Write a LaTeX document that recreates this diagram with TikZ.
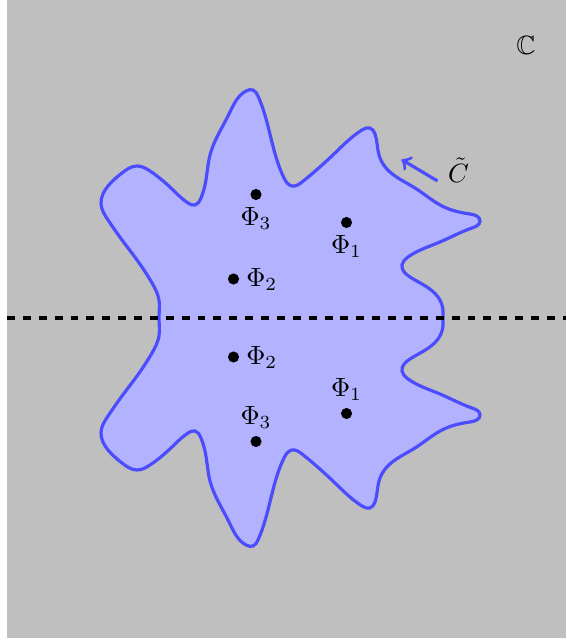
\documentclass[tikz,border=0pt]{standalone}
\usepackage{amssymb}
\usetikzlibrary{hobby}
\begin{document}
\begin{tikzpicture}[x=0.664cm, y=0.664cm,
  outline/.style={draw=blue!70, line width=1.2pt, fill=blue!30},
  pole/.style={circle, fill=black, inner sep=0pt, minimum size=4.2pt},
  poleup/.style={pole, label={[label distance=-1pt]below:#1}},
  poledown/.style={pole, label={[label distance=-1pt]above:#1}},
  poleright/.style={pole, label={[label distance=-1pt]right:#1}}]
  \useasboundingbox (0,-6.5) rectangle (11.32,6.36);
  \fill[gray!50] (0.14,-6.4) rectangle (11.32,6.36);

  % contour, symmetric about the real axis
  \draw[outline, use Hobby shortcut, closed=true]
    (3.18,0) .. (3.18,0.36) .. (3.04,0.70) .. (2.74,1.16) .. (2.44,1.56)
    .. (2.16,1.96) .. (2.02,2.28) .. (2.16,2.64) .. (2.44,2.90) .. (2.74,3.04)
    .. (3.00,2.94) .. (3.44,2.58) .. (3.76,2.30) .. (3.90,2.26) .. (4.02,2.40)
    .. (4.10,2.66) .. (4.20,3.26) .. (4.58,4.08) .. (4.92,4.54) .. (5.06,4.56)
    .. (5.16,4.44) .. (5.48,3.36) .. (5.68,2.80) .. (5.84,2.64) .. (6.04,2.72)
    .. (6.70,3.30) .. (7.24,3.76) .. (7.40,3.80) .. (7.50,3.68) .. (7.58,3.26)
    .. (7.72,3.00) .. (8.30,2.60) .. (8.88,2.22) .. (9.40,2.08) .. (9.60,1.94)
    .. (9.44,1.80) .. (8.80,1.52) .. (8.16,1.22) .. (8.04,1.06) .. (8.20,0.82)
    .. (8.76,0.42) .. (8.86,0.16) .. (8.86,0)
    .. (8.86,-0.16) .. (8.76,-0.42) .. (8.20,-0.82) .. (8.04,-1.06)
    .. (8.16,-1.22) .. (8.80,-1.52) .. (9.44,-1.80) .. (9.60,-1.94)
    .. (9.40,-2.08) .. (8.88,-2.22) .. (8.30,-2.60) .. (7.72,-3.00)
    .. (7.58,-3.26) .. (7.50,-3.68) .. (7.40,-3.80) .. (7.24,-3.76)
    .. (6.70,-3.30) .. (6.04,-2.72) .. (5.84,-2.64) .. (5.68,-2.80)
    .. (5.48,-3.36) .. (5.16,-4.44) .. (5.06,-4.56) .. (4.92,-4.54)
    .. (4.58,-4.08) .. (4.20,-3.26) .. (4.10,-2.66) .. (4.02,-2.40)
    .. (3.90,-2.26) .. (3.76,-2.30) .. (3.44,-2.58) .. (3.00,-2.94)
    .. (2.74,-3.04) .. (2.44,-2.90) .. (2.16,-2.64) .. (2.02,-2.28)
    .. (2.16,-1.96) .. (2.44,-1.56) .. (2.74,-1.16) .. (3.04,-0.70)
    .. (3.18,-0.36);

  \draw[dashed, line width=1.5pt] (0.14,0) -- (11.32,0);

  \node[poleup={$\Phi_3$}] (phi3u) at (5.12,2.47) {};
  \node[poleup={$\Phi_1$}] (phi1u) at (6.93,1.91) {};
  \node[poleright={$\Phi_2$}] (phi2u) at (4.67,0.78) {};
  \node[poleright={$\Phi_2$}] (phi2d) at (4.67,-0.78) {};
  \node[poledown={$\Phi_1$}] (phi1d) at (6.93,-1.91) {};
  \node[poledown={$\Phi_3$}] (phi3d) at (5.12,-2.47) {};

  \node (Ct) at (9.17,2.96) {$\tilde{C}$};
  \coordinate (Ctail) at (8.75,2.74);
  \coordinate (Ctip) at (8.03,3.17);
  \draw[->, blue!70, line width=1.2pt] (Ctail) -- (Ctip);

  \node (plane) at (10.52,5.46) {$\mathbb{C}$};
\end{tikzpicture}
\end{document}
